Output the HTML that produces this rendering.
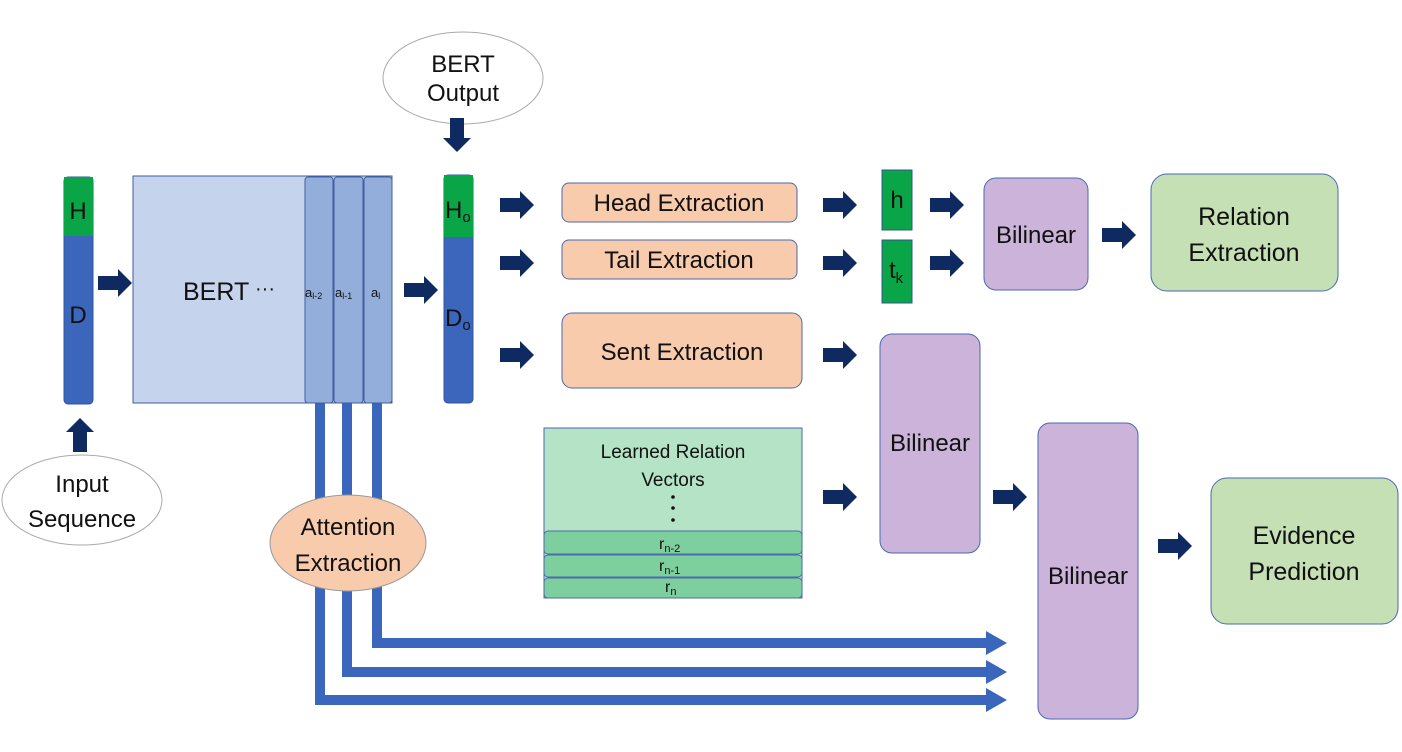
<!DOCTYPE html>
<html><head><meta charset="utf-8"><style>
body{margin:0;background:#fff}
text{font-family:"Liberation Sans",sans-serif;fill:#111}
</style></head><body>
<svg width="1402" height="747" viewBox="0 0 1402 747" xmlns="http://www.w3.org/2000/svg">
<defs>
<g id="ar"><polygon points="0,-7 20,-7 20,-14 34,0 20,14 20,7 0,7" fill="#0f2a60"/></g>
</defs>
<g fill="none" stroke="#3a67bd" stroke-width="10">
<path d="M377 400 V643 H990"/>
<path d="M347 400 V672 H990"/>
<path d="M320 400 V700 H990"/>
</g>
<polygon points="986,631 1007,643 986,655" fill="#3a67bd"/>
<polygon points="986,660 1007,672 986,684" fill="#3a67bd"/>
<polygon points="986,688 1007,700 986,712" fill="#3a67bd"/>
<rect x="64" y="177" width="29" height="227" rx="4" fill="#3b66bc" stroke="#2f55a0"/>
<rect x="64" y="177" width="29" height="59" fill="#0aa546"/>
<text x="78" y="219" font-size="24" text-anchor="middle">H</text>
<text x="78" y="323" font-size="24" text-anchor="middle">D</text>
<rect x="133" y="176" width="259" height="227" fill="#c5d3ec" stroke="#3f5e9e"/>
<rect x="305" y="177" width="28" height="226" rx="3" fill="#94aedb" stroke="#3f5e9e"/>
<rect x="334" y="177" width="29" height="226" rx="3" fill="#94aedb" stroke="#3f5e9e"/>
<rect x="364" y="177" width="28" height="226" rx="3" fill="#94aedb" stroke="#3f5e9e"/>
<text x="183" y="300" font-size="25">BERT</text>
<text x="255" y="295" font-size="20">···</text>
<text x="305" y="297" font-size="13">a<tspan font-size="9" dy="2">l-2</tspan></text>
<text x="335" y="297" font-size="13">a<tspan font-size="9" dy="2">l-1</tspan></text>
<text x="371" y="297" font-size="13">a<tspan font-size="9" dy="2">l</tspan></text>
<rect x="444" y="175" width="29" height="228" rx="4" fill="#3b66bc" stroke="#2f55a0"/>
<rect x="444" y="175" width="29" height="62" fill="#0aa546"/>
<text x="445" y="218" font-size="24">H<tspan font-size="15" dy="4">o</tspan></text>
<text x="445" y="326" font-size="24">D<tspan font-size="15" dy="4">o</tspan></text>
<ellipse cx="463" cy="78" rx="80" ry="46" fill="#fff" stroke="#aaa"/>
<text x="463" y="72" font-size="24" text-anchor="middle">BERT</text>
<text x="463" y="101" font-size="24" text-anchor="middle">Output</text>
<ellipse cx="82" cy="500" rx="80" ry="45" fill="#fff" stroke="#aaa"/>
<text x="82" y="492" font-size="24" text-anchor="middle">Input</text>
<text x="82" y="527" font-size="24" text-anchor="middle">Sequence</text>
<ellipse cx="348" cy="543" rx="78" ry="48" fill="#f8cbad" stroke="#999"/>
<text x="348" y="535" font-size="24" text-anchor="middle">Attention</text>
<text x="348" y="571" font-size="24" text-anchor="middle">Extraction</text>
<use href="#ar" transform="translate(98,283)"/>
<use href="#ar" transform="translate(404,290)"/>
<use href="#ar" transform="translate(457,118) rotate(90)"/>
<use href="#ar" transform="translate(80,452) rotate(-90)"/>
<use href="#ar" transform="translate(500,205)"/>
<use href="#ar" transform="translate(500,263)"/>
<use href="#ar" transform="translate(500,355)"/>
<use href="#ar" transform="translate(823,205)"/>
<use href="#ar" transform="translate(823,263)"/>
<use href="#ar" transform="translate(823,355)"/>
<use href="#ar" transform="translate(930,205)"/>
<use href="#ar" transform="translate(930,263)"/>
<use href="#ar" transform="translate(1102,235)"/>
<use href="#ar" transform="translate(823,497)"/>
<use href="#ar" transform="translate(993,497)"/>
<use href="#ar" transform="translate(1158,546)"/>
<rect x="562" y="183" width="235" height="39" rx="7" fill="#f8cbad" stroke="#4a6ab0"/>
<text x="679" y="211" font-size="24" text-anchor="middle">Head Extraction</text>
<rect x="562" y="240" width="235" height="39" rx="7" fill="#f8cbad" stroke="#4a6ab0"/>
<text x="679" y="268" font-size="24" text-anchor="middle">Tail Extraction</text>
<rect x="562" y="313" width="240" height="75" rx="10" fill="#f8cbad" stroke="#4a6ab0"/>
<text x="682" y="360" font-size="24" text-anchor="middle">Sent Extraction</text>
<rect x="882" y="170" width="30" height="60" fill="#0aa546" stroke="#2f55a0"/>
<text x="897" y="208" font-size="24" text-anchor="middle">h</text>
<rect x="882" y="240" width="30" height="63" fill="#0aa546" stroke="#2f55a0"/>
<text x="889" y="278" font-size="24">t<tspan font-size="15" dy="5">k</tspan></text>
<rect x="984" y="178" width="104" height="112" rx="12" fill="#cbb3d9" stroke="#4a6ab0"/>
<text x="1036" y="243" font-size="24" text-anchor="middle">Bilinear</text>
<rect x="880" y="334" width="100" height="219" rx="12" fill="#cbb3d9" stroke="#4a6ab0"/>
<text x="930" y="451" font-size="24" text-anchor="middle">Bilinear</text>
<rect x="1038" y="423" width="100" height="296" rx="12" fill="#cbb3d9" stroke="#4a6ab0"/>
<text x="1088" y="584" font-size="24" text-anchor="middle">Bilinear</text>
<rect x="1151" y="174" width="187" height="117" rx="16" fill="#c5e0b4" stroke="#4a6ab0"/>
<text x="1244" y="225" font-size="25" text-anchor="middle">Relation</text>
<text x="1244" y="261" font-size="25" text-anchor="middle">Extraction</text>
<rect x="1211" y="478" width="187" height="146" rx="16" fill="#c5e0b4" stroke="#4a6ab0"/>
<text x="1304" y="544" font-size="25" text-anchor="middle">Evidence</text>
<text x="1304" y="580" font-size="25" text-anchor="middle">Prediction</text>
<rect x="544" y="428" width="258" height="170" fill="#b4e3c6" stroke="#4a6ab0"/>
<text x="673" y="458" font-size="19" text-anchor="middle">Learned Relation</text>
<text x="673" y="486" font-size="19" text-anchor="middle">Vectors</text>
<circle cx="673" cy="497" r="1.8" fill="#111"/><circle cx="673" cy="508" r="1.8" fill="#111"/><circle cx="673" cy="520" r="1.8" fill="#111"/>
<rect x="544" y="531" width="258" height="23" rx="4" fill="#7dd09e" stroke="#4a6ab0"/>
<rect x="544" y="555" width="258" height="22" rx="4" fill="#7dd09e" stroke="#4a6ab0"/>
<rect x="544" y="578" width="258" height="20" rx="4" fill="#7dd09e" stroke="#4a6ab0"/>
<text x="659" y="549" font-size="16">r<tspan font-size="11" dy="3">n-2</tspan></text>
<text x="659" y="571" font-size="16">r<tspan font-size="11" dy="3">n-1</tspan></text>
<text x="665" y="592" font-size="16">r<tspan font-size="11" dy="3">n</tspan></text>
</svg>
</body></html>
